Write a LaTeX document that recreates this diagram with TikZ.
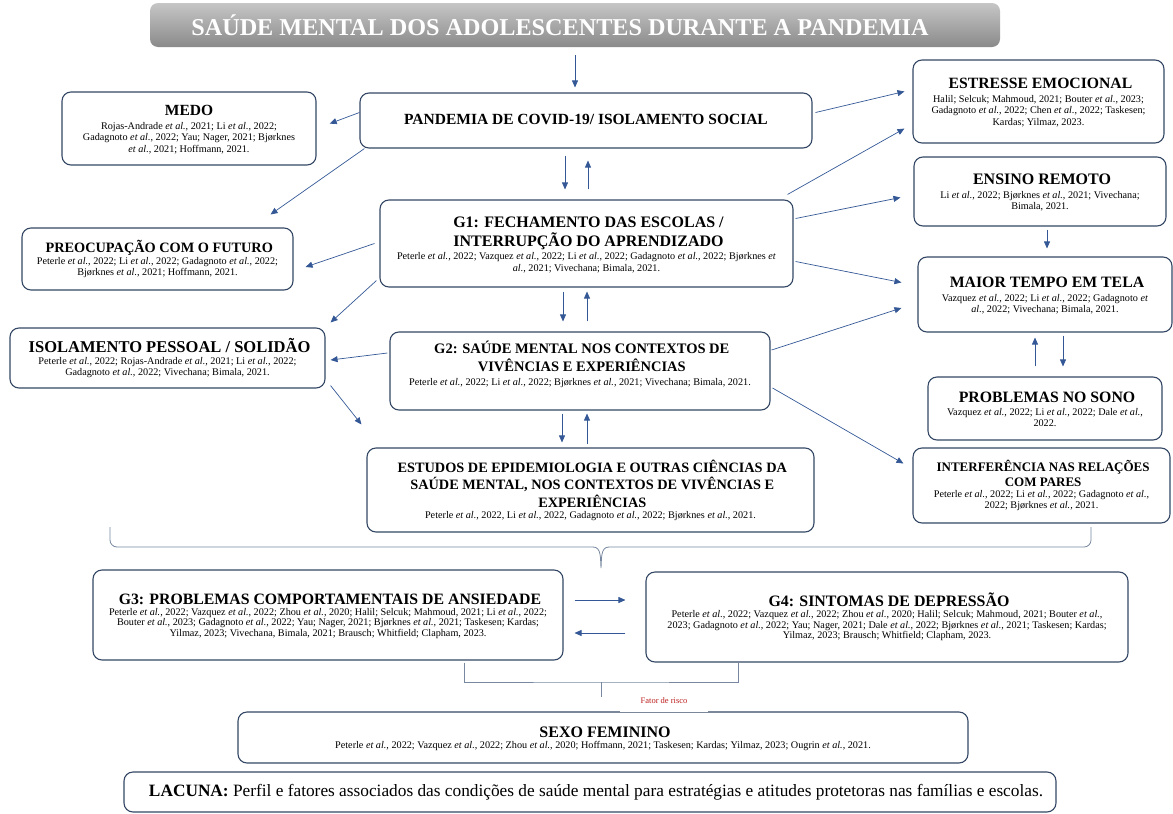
\documentclass[tikz,border=0pt]{standalone}
\usepackage{fontspec}
\setmainfont{Liberation Serif}
\usetikzlibrary{arrows.meta,calc}
\definecolor{smedge}{RGB}{52,72,102}
\definecolor{smarr}{RGB}{52,88,150}
\definecolor{smline}{RGB}{120,136,160}
\definecolor{smtitA}{RGB}{198,198,198}
\definecolor{smtitB}{RGB}{138,138,138}
\definecolor{smred}{RGB}{190,30,30}
\newcommand{\etal}{\textit{et al.}}
\newcommand{\ctfont}{\fontsize{10.2}{11.5}\selectfont}
\newcommand{\hdfont}[1][15.5]{\fontsize{#1}{18}\selectfont\bfseries\rule[-0.3em]{0pt}{1.1em}}
\tikzset{
  smbox/.style={
    draw=smedge, line width=1.1pt, rounded corners=9pt, fill=white,
    align=center, inner sep=2pt, font=\ctfont
  },
  tit/.style={
    rounded corners=8pt, top color=smtitA, bottom color=smtitB,
    text=white, font=\fontsize{24.2}{27}\selectfont\bfseries
  },
  arr/.style={-{Triangle[length=7pt,width=6pt]}, draw=smarr, line width=0.7pt},
  brc/.style={draw=smline, line width=0.8pt},
  anno/.style={font=\fontsize{8.5}{10}\selectfont, text=smred}
}
\begin{document}
\begin{tikzpicture}[x=1pt, y=-1pt]
  \useasboundingbox (0,0) rectangle (1173,814);
  % TITLE
  \node[tit, minimum width=850, minimum height=44] (title) at (575,25)
    {SAÚDE MENTAL DOS ADOLESCENTES DURANTE A PANDEMIA\hspace*{30pt}};
  % CENTRE
  \node[smbox, minimum width=452, minimum height=55] (pand) at (586,120.5)
    {{\hdfont PANDEMIA DE COVID-19/ ISOLAMENTO SOCIAL}};
  \node[smbox, minimum width=413, minimum height=87] (g1) at (586.5,243.5)
    {{\hdfont[16] G1: FECHAMENTO DAS ESCOLAS /}\\{\hdfont[16] INTERRUPÇÃO DO APRENDIZADO}\\[0pt]
     Peterle \etal, 2022; Vazquez \etal, 2022; Li \etal, 2022; Gadagnoto \etal, 2022; Bjørknes \textit{et}\\
     \textit{al.}, 2021; Vivechana; Bimala, 2021.};
  \node[smbox, minimum width=380, minimum height=78] (g2) at (580,371)
    {{\hdfont[14.5] G2: SAÚDE MENTAL NOS CONTEXTOS DE}\\{\hdfont[14.5] VIVÊNCIAS E EXPERIÊNCIAS}\\[2pt]
     Peterle \etal, 2022; Li \etal, 2022; Bjørknes \etal, 2021; Vivechana; Bimala, 2021.\\[4pt]};
  \node[smbox, minimum width=447, minimum height=84] (estudos) at (590.5,490)
    {{\hdfont[14.3] ESTUDOS DE EPIDEMIOLOGIA E OUTRAS CIÊNCIAS DA}\\
     {\hdfont[14.3] SAÚDE MENTAL, NOS CONTEXTOS DE VIVÊNCIAS E}\\
     {\hdfont[14.3] EXPERIÊNCIAS}\\[-1pt]
     Peterle \etal, 2022, Li \etal, 2022, Gadagnoto \etal, 2022; Bjørknes \etal, 2021.};
  % LEFT
  \node[smbox, minimum width=254, minimum height=73] (medo) at (189,128.5)
    {{\hdfont MEDO}\\[1pt]
     Rojas-Andrade \etal, 2021; Li \etal, 2022;\\
     Gadagnoto \etal, 2022; Yau; Nager, 2021; Bjørknes\\
     \etal, 2021; Hoffmann, 2021.};
  \node[smbox, minimum width=271, minimum height=62] (preoc) at (157.5,259)
    {{\hdfont[14.3] PREOCUPAÇÃO COM O FUTURO}\\[0pt]
     Peterle \etal, 2022; Li \etal, 2022; Gadagnoto \etal, 2022;\\
     Bjørknes \etal, 2021; Hoffmann, 2021.};
  \node[smbox, minimum width=315, minimum height=60] (isol) at (167.5,358)
    {{\hdfont[16.5] ISOLAMENTO PESSOAL / SOLIDÃO}\\[-1pt]
     Peterle \etal, 2022; Rojas-Andrade \etal, 2021; Li \etal, 2022;\\
     Gadagnoto \etal, 2022; Vivechana; Bimala, 2021.};
  % RIGHT
  \node[smbox, minimum width=251, minimum height=83] (estr) at (1038.5,101.5)
    {{\hdfont[15.7] ESTRESSE EMOCIONAL}\\[1pt]
     Halil; Selcuk; Mahmoud, 2021; Bouter \etal, 2023;\\
     Gadagnoto \etal, 2022; Chen \etal, 2022; Taskesen;\\
     Kardas; Yilmaz, 2023.};
  \node[smbox, minimum width=252, minimum height=69] (ensino) at (1040,191.5)
    {{\hdfont[16] ENSINO REMOTO}\\[1pt]
     Li \etal, 2022; Bjørknes \etal, 2021; Vivechana;\\
     Bimala, 2021.};
  \node[smbox, minimum width=254, minimum height=75] (maior) at (1045,294.5)
    {{\hdfont[15.8] MAIOR TEMPO EM TELA}\\[1pt]
     Vazquez \etal, 2022; Li \etal, 2022; Gadagnoto \textit{et}\\
     \textit{al.}, 2022; Vivechana; Bimala, 2021.};
  \node[smbox, minimum width=234, minimum height=63] (sono) at (1045,408.5)
    {{\hdfont[15.8] PROBLEMAS NO SONO}\\[0pt]
     Vazquez \etal, 2022; Li \etal, 2022; Dale \etal,\\
     2022.};
  \node[smbox, minimum width=257, minimum height=75] (interf) at (1041.5,485.5)
    {{\hdfont[13] INTERFERÊNCIA NAS RELAÇÕES}\\{\hdfont[13] COM PARES}\\[-1pt]
     Peterle \etal, 2022; Li \etal, 2022; Gadagnoto \etal,\\
     2022; Bjørknes \etal, 2021.};
  % BOTTOM
  \node[smbox, minimum width=470, minimum height=90] (g3) at (328,615)
    {{\hdfont[15.8] G3: PROBLEMAS COMPORTAMENTAIS DE ANSIEDADE}\\[-2pt]
     Peterle \etal, 2022; Vazquez \etal, 2022; Zhou \etal, 2020; Halil; Selcuk; Mahmoud, 2021; Li \etal, 2022;\\[-1pt]
     Bouter \etal, 2023; Gadagnoto \etal, 2022; Yau; Nager, 2021; Bjørknes \etal, 2021; Taskesen; Kardas;\\[-1pt]
     Yilmaz, 2023; Vivechana, Bimala, 2021; Brausch; Whitfield; Clapham, 2023.};
  \node[smbox, minimum width=482, minimum height=90] (g4) at (887,617)
    {{\hdfont[15.9] G4: SINTOMAS DE DEPRESSÃO}\\[-2pt]
     Peterle \etal, 2022; Vazquez \etal, 2022; Zhou \etal, 2020; Halil; Selcuk; Mahmoud, 2021; Bouter \etal,\\[-1pt]
     2023; Gadagnoto \etal, 2022; Yau; Nager, 2021; Dale \etal, 2022; Bjørknes \etal, 2021; Taskesen; Kardas;\\[-1pt]
     Yilmaz, 2023; Brausch; Whitfield; Clapham, 2023.};
  \node[smbox, minimum width=730, minimum height=51] (sexo) at (603,737.5)
    {{\hdfont[16] SEXO FEMININO}\\[-2pt]
     Peterle \etal, 2022; Vazquez \etal, 2022; Zhou \etal, 2020; Hoffmann, 2021; Taskesen; Kardas; Yilmaz, 2023; Ougrin \etal, 2021.};
  \node[anno, fill=white, minimum width=88, minimum height=22] (fator) at (664,701) {Fator de risco};
  \node[smbox, minimum width=932, minimum height=40, font=\fontsize{17.3}{20}\selectfont] (lacuna) at (590,792)
    {\hspace*{12pt}\textbf{LACUNA:} Perfil e fatores associados das condições de saúde mental para estratégias e atitudes protetoras nas famílias e escolas.};
  % ARROWS
  \draw[arr] ($(title.south)+(0,8)$) -- ($(title.south |- pand.north)+(0,-5)$);
  \draw[arr, shorten >=14pt] ($(pand.west)+(0,-8)$) -- (medo.east);
  \draw[arr] ($(pand.south west)+(5,0)$) -- ($(preoc.north east)+(-23,-13)$);
  \draw[arr] ($(pand.east)+(3,-8)$) -- ($(estr.west)+(-8,-10)$);
  \draw[arr] ($(pand.south)+(-21,7)$) -- ($(pand.south |- g1.north)+(-21,-10)$);
  \draw[arr] ($(pand.south |- g1.north)+(2,-10)$) -- ($(pand.south)+(2,12)$);
  \draw[arr] ($(g1.north east)+(-6,-5)$) -- ($(estr.south west)+(-8,-15)$);
  \draw[arr] ($(g1.east)+(2,-25)$) -- ($(ensino.west)+(-13,6)$);
  \draw[arr] ($(g1.east)+(2,18)$) -- ($(maior.west)+(-16,-12)$);
  \draw[arr] ($(g1.west)+(-5,0)$) -- ($(preoc.east)+(12,8)$);
  \draw[arr] ($(g1.south west)+(-3,-7)$) -- ($(isol.north east)+(5,-5)$);
  \draw[arr] ($(g1.south)+(-23.5,4)$) -- ($(g1.south |- g2.north)+(-23.5,-10)$);
  \draw[arr] ($(g1.south |- g2.north)+(0.5,-10)$) -- ($(g1.south)+(0.5,4)$);
  \draw[arr] ($(g2.west)+(-2,-18)$) -- ($(isol.east)+(5,2)$);
  \draw[arr] ($(isol.south east)+(5,-3)$) -- ($(estudos.north west)+(-5,-23)$);
  \draw[arr] ($(g2.south)+(-18,3)$) -- ($(g2.south |- estudos.north)+(-18,-5)$);
  \draw[arr] ($(g2.south |- estudos.north)+(7,-3)$) -- ($(g2.south)+(7,3)$);
  \draw[arr] ($(g2.east)+(1,-21)$) -- ($(maior.west)+(-16,13.5)$);
  \draw[arr] ($(g2.east)+(2,17)$) -- ($(interf.west)+(-9,-22)$);
  \draw[arr] ($(ensino.south)+(7,3)$) -- ($(ensino.south |- maior.north)+(7,-8)$);
  \draw[arr] ($(sono.north)+(-10,-10)$) -- ($(maior.south)+(-10,5)$);
  \draw[arr] ($(maior.south)+(18,3)$) -- ($(sono.north)+(18,-10)$);
  \draw[arr] ($(g3.east)+(11,-15)$) -- ($(g4.west |- g3.east)+(-20,-15)$);
  \draw[arr] ($(g4.west |- g3.east)+(-20,18)$) -- ($(g3.east)+(11,18)$);
  % BRACKETS
  \draw[brc] (110,527) -- (110,540) to[out=-90,in=180] (117,547) -- (593,547)
    to[out=0,in=95] (601,568) to[out=85,in=180] (609,547) -- (1084,547)
    to[out=0,in=-90] (1091,540) -- (1091,527);
  \coordinate (jn) at (601,682);
  \draw[brc] ($(g3.south)+(136,2)$) |- (jn) -| ($(g4.south)+(-149,0)$);
  \draw[brc] (jn) -- ++(0,15);
\end{tikzpicture}
\end{document}
